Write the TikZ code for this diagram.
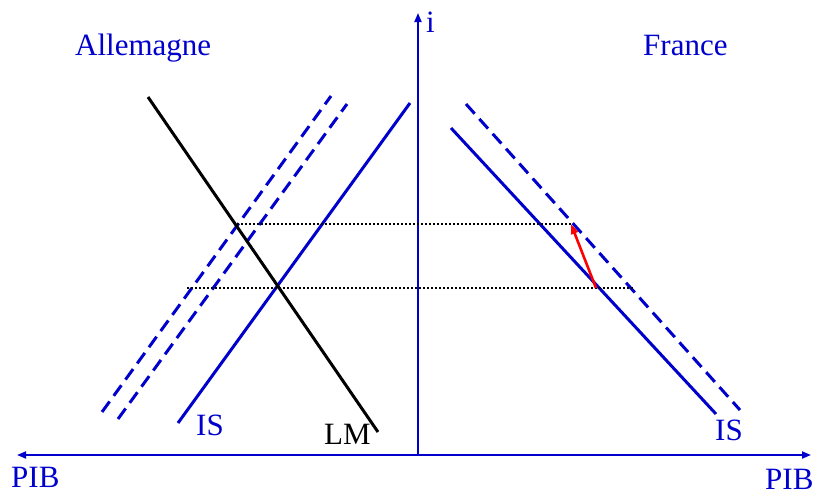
\documentclass[tikz,border=0pt]{standalone}
\usepackage{fontspec}
\setmainfont{Liberation Serif}
\usetikzlibrary{arrows.meta}
\definecolor{isblue}{RGB}{0,0,205}
\tikzset{
  lbl/.style={font=\fontsize{31}{34}\selectfont, inner sep=0pt, anchor=base west},
  bluelbl/.style={lbl, text=isblue},
  axisline/.style={draw=isblue, line width=1.8pt, -{Triangle[length=9pt,width=7pt]}},
  curve/.style={draw=isblue, line width=3pt},
  dashcurve/.style={curve, dash pattern=on 13pt off 7pt},
  lmcurve/.style={draw=black, line width=3pt},
  dotline/.style={draw=black, line width=1.8pt, dash pattern=on 1.8pt off 2.2pt},
  redarrow/.style={draw=red, line width=2.6pt, -{Triangle[length=10pt,width=7pt]}}
}
\begin{document}
\begin{tikzpicture}[x=1pt,y=-1pt]
\useasboundingbox (0,0) rectangle (838,496);
% axes
\coordinate (o) at (418,455);
\coordinate (itop) at (418,13);
\coordinate (xl) at (17,455);
\coordinate (xr) at (811,455);
\draw[axisline] (o) -- (itop);
\draw[axisline] (o) -- (xl);
\draw[axisline] (o) -- (xr);
% Germany
\coordinate (lm1) at (148,97);
\coordinate (lm2) at (378,432);
\coordinate (isg1) at (178,423);
\coordinate (isg2) at (410,103);
\coordinate (dg1a) at (102,412);
\coordinate (dg1b) at (331,96);
\coordinate (dg2a) at (118,419);
\coordinate (dg2b) at (347,104);
\draw[curve] (isg1) -- (isg2);
\draw[dashcurve] (dg1a) -- (dg1b);
\draw[dashcurve] (dg2a) -- (dg2b);
\draw[lmcurve] (lm1) -- (lm2);
% France
\coordinate (isf1) at (451,128);
\coordinate (isf2) at (716,414);
\coordinate (df1) at (466,104);
\coordinate (df2) at (740,410);
\draw[curve] (isf1) -- (isf2);
\draw[dashcurve] (df1) -- (df2);
% dotted levels
\coordinate (u1) at (237,224);
\coordinate (u2) at (571,224);
\coordinate (l1) at (187,288);
\coordinate (l2) at (633,288);
\draw[dotline] (u1) -- (u2);
\draw[dotline] (l1) -- (l2);
% red arrow
\coordinate (ra) at (596,288);
\coordinate (rb) at (571,224);
\draw[redarrow] (ra) -- (rb);
% labels
\node[bluelbl] (ti) at (426,32) {i};
\node[bluelbl] (tall) at (75,55) {Allemagne};
\node[bluelbl] (tfr) at (643,55) {France};
\node[bluelbl] (tisg) at (196,435) {IS};
\node[lbl] (tlm) at (324,444) {LM};
\node[bluelbl] (tisf) at (715,440) {IS};
\node[bluelbl] (tpibl) at (11,487) {PIB};
\node[bluelbl] (tpibr) at (765,489) {PIB};
\end{tikzpicture}
\end{document}
